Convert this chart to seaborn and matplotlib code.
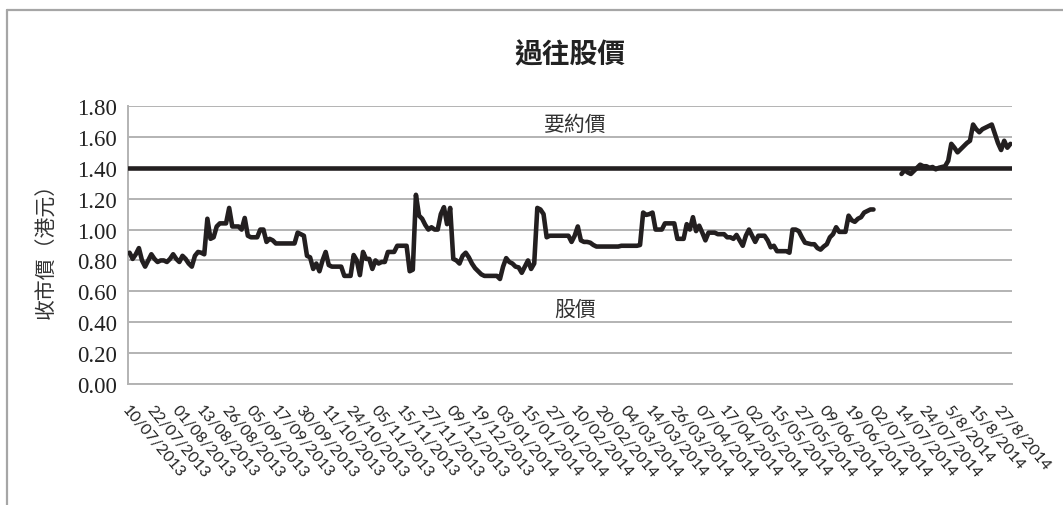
import numpy as np
import pandas as pd
import matplotlib
matplotlib.use("Agg")
import matplotlib.pyplot as plt
from matplotlib.lines import Line2D
from matplotlib.ticker import FixedLocator, FuncFormatter
import seaborn as sns

# ---------------- data ----------------
title = "過往股價"
y_label = "收市價（港元）"
strike_label = "要約價"
price_label = "股價"
strike_price = 1.40

tick_labels = ["10/07/2013", "22/07/2013", "01/08/2013", "13/08/2013", "26/08/2013",
               "05/09/2013", "17/09/2013", "30/09/2013", "11/10/2013", "24/10/2013",
               "05/11/2013", "15/11/2013", "27/11/2013", "09/12/2013", "19/12/2013",
               "03/01/2014", "15/01/2014", "27/01/2014", "10/02/2014", "20/02/2014",
               "04/03/2014", "14/03/2014", "26/03/2014", "07/04/2014", "17/04/2014",
               "02/05/2014", "15/05/2014", "27/05/2014", "09/06/2014", "19/06/2014",
               "02/07/2014", "14/07/2014", "24/07/2014", "5/8/2014", "15/8/2014",
               "27/8/2014"]
tick_every = 8

price_part1 = [
    0.85, 0.81, 0.84, 0.88, 0.80, 0.76, 0.80, 0.84, 0.81, 0.79,
    0.80, 0.80, 0.79, 0.81, 0.84, 0.81, 0.79, 0.83, 0.81, 0.78,
    0.76, 0.83, 0.855, 0.85, 0.84, 1.07, 0.94, 0.95, 1.02, 1.04,
    1.04, 1.04, 1.14, 1.02, 1.02, 1.02, 1.00, 1.075, 0.96, 0.95,
    0.95, 0.95, 1.00, 1.00, 0.92, 0.94, 0.93, 0.91, 0.91, 0.91,
    0.91, 0.91, 0.91, 0.91, 0.98, 0.97, 0.96, 0.83, 0.82, 0.745,
    0.78, 0.73, 0.80, 0.855, 0.77, 0.76, 0.76, 0.76, 0.76, 0.70,
    0.70, 0.70, 0.835, 0.80, 0.705, 0.855, 0.81, 0.81, 0.745, 0.80,
    0.78, 0.79, 0.79, 0.855, 0.855, 0.855, 0.895, 0.895, 0.895, 0.895,
    0.73, 0.74, 1.225, 1.09, 1.07, 1.03, 1.00, 1.015, 1.00, 1.00,
    1.10, 1.145, 1.035, 1.14, 0.81, 0.80, 0.78, 0.83, 0.85, 0.82,
    0.78, 0.75, 0.73, 0.71, 0.70, 0.70, 0.70, 0.70, 0.70, 0.68,
    0.76, 0.815, 0.79, 0.78, 0.76, 0.755, 0.72, 0.76, 0.80, 0.745,
    0.78, 1.14, 1.13, 1.10, 0.95, 0.96, 0.96, 0.96, 0.96, 0.96,
    0.96, 0.96, 0.92, 0.96, 1.02, 0.93, 0.92, 0.92, 0.915, 0.90,
    0.89, 0.89, 0.89, 0.89, 0.89, 0.89, 0.89, 0.89, 0.895, 0.895,
    0.895, 0.895, 0.895, 0.895, 0.90, 1.11, 1.095, 1.10, 1.11, 1.00,
    1.00, 1.00, 1.04, 1.04, 1.04, 1.04, 0.94, 0.94, 0.94, 1.035,
    1.00, 1.08, 0.99, 1.025, 0.98, 0.93, 0.98, 0.98, 0.98, 0.97,
    0.97, 0.97, 0.95, 0.95, 0.94, 0.965, 0.93, 0.895, 0.96, 1.00,
    0.96, 0.92, 0.96, 0.96, 0.96, 0.93, 0.885, 0.895, 0.86, 0.86,
    0.86, 0.86, 0.85, 1.00, 1.00, 0.99, 0.95, 0.915, 0.91, 0.905,
    0.905, 0.88, 0.87, 0.89, 0.905, 0.95, 0.97, 1.015, 0.985, 0.985,
    0.985, 1.09, 1.06, 1.05, 1.07, 1.08, 1.11, 1.12, 1.13, 1.13,
]
# trading suspended: no closing prices
gap_days = 8
price_part2 = [
    1.36, 1.385, 1.37, 1.36, 1.38, 1.40, 1.42, 1.41, 1.41, 1.40,
    1.405, 1.39, 1.40, 1.405, 1.41, 1.445, 1.555, 1.53, 1.50, 1.52,
    1.54, 1.56, 1.575, 1.68, 1.65, 1.63, 1.65, 1.66, 1.67, 1.68,
    1.62, 1.56, 1.515, 1.575, 1.53, 1.555,
]

# ---------------- build frame ----------------
n1 = len(price_part1)
start2 = n1 + gap_days
n_total = start2 + len(price_part2)
df = pd.DataFrame({
    "idx": list(range(n1)) + list(range(start2, n_total)),
    "price": price_part1 + price_part2,
    "seg": [1] * n1 + [2] * len(price_part2),
})

# ---------------- style ----------------
sns.set_theme(style="white")
plt.rcParams["font.family"] = ["Noto Sans CJK TC", "DejaVu Sans"]

W, H = 1063, 506
fig = plt.figure(figsize=(W / 100, H / 100), dpi=100)
ax = fig.add_axes([128 / W, 1 - 385 / H, (1012 - 128) / W, (385 - 107) / H])

line_col = "#231f20"
grid_col = "#b3b3b3"

sns.lineplot(data=df, x="idx", y="price", units="seg", estimator=None,
             color=line_col, linewidth=3.3, ax=ax, legend=False, zorder=3)
ax.axhline(strike_price, color=line_col, linewidth=3.3, zorder=3)

ax.set_xlim(-0.5, n_total - 0.5)
ax.set_ylim(0, 1.8)
ax.set_yticks(np.arange(0, 1.81, 0.2))
ax.yaxis.set_major_formatter(FuncFormatter(lambda v, p: f"{v:.2f}"))
ax.yaxis.grid(True, color=grid_col, linewidth=1.4)
ax.set_axisbelow(True)

for side in ["top", "right"]:
    ax.spines[side].set_visible(False)
ax.spines["left"].set_color(grid_col)
ax.spines["left"].set_linewidth(1.4)
ax.spines["bottom"].set_color(grid_col)
ax.spines["bottom"].set_linewidth(1.4)

ax.tick_params(axis="y", length=0, pad=8)
for lab in ax.get_yticklabels():
    lab.set_fontfamily("Liberation Serif")
    lab.set_fontsize(16.5)
    lab.set_color("#222222")

tick_pos = [i * tick_every for i in range(len(tick_labels))]
ax.set_xticks(tick_pos)
ax.set_xticklabels(tick_labels, rotation=-50, ha="left", va="top",
                   rotation_mode="anchor", fontsize=11.5,
                   fontfamily="Lato", color="#222222")
ax.tick_params(axis="x", length=0, pad=13)
ax.xaxis.set_minor_locator(FixedLocator(np.arange(-0.5, n_total, 1.0)))
ax.tick_params(axis="x", which="minor", length=5, width=0.8, color="#9a9a9a",
               direction="out")

ax.set_xlabel("")
ax.set_ylabel(y_label, fontsize=15, color="#333333", labelpad=14)

fig.text(570 / W, 1 - 55 / H, title, ha="center", va="center",
         fontsize=20, fontweight="bold", color="#222222")
ax.text(ax.get_xlim()[0] + (575 - 128) / 884 * n_total, 1.8 * (385 - 125) / 278,
        strike_label, ha="center", va="center", fontsize=15, color="#333333")
ax.text(ax.get_xlim()[0] + (575 - 128) / 884 * n_total, 1.8 * (385 - 310) / 278,
        price_label, ha="center", va="center", fontsize=15, color="#333333")

# outer chart frame
fig.add_artist(Line2D([7 / W, 7 / W], [0, 1 - 11 / H], transform=fig.transFigure,
                      color="#a6a6a6", linewidth=1.6))
fig.add_artist(Line2D([7 / W, 1], [1 - 11 / H, 1 - 11 / H], transform=fig.transFigure,
                      color="#a6a6a6", linewidth=1.6))

fig.savefig("out.png", dpi=100, facecolor="white")
